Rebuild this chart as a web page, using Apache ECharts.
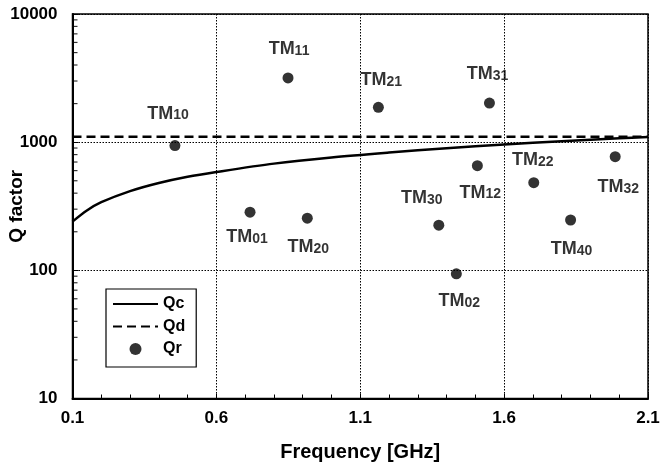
<!DOCTYPE html>
<html>
<head>
<meta charset="utf-8">
<script src="https://cdn.jsdelivr.net/npm/echarts@6/dist/echarts.min.js"></script>
<style>html,body{margin:0;padding:0;background:#fff}#c{width:661px;height:468px}</style>
</head>
<body>
<div id="c"></div>
<script>
// ---- data ----
var modeNames = ['TM10','TM11','TM01','TM20','TM21','TM31','TM12','TM22','TM32','TM30','TM40','TM02'];
var modeFreq  = [0.456, 0.849, 0.717, 0.916, 1.163, 1.549, 1.507, 1.703, 1.986, 1.373, 1.831, 1.434];
var qrValues  = [940, 3170, 284, 255, 1870, 2020, 656, 483, 771, 225, 247, 94];

var qcFreq   = [0.1, 0.15, 0.2, 0.3, 0.4, 0.5, 0.6, 0.8, 1.0, 1.2, 1.4, 1.6, 1.8, 2.0, 2.1];
var qcValues = [240, 293, 340, 415, 480, 537, 585, 680, 760, 830, 898, 960, 1018, 1072, 1098];

var qdFreq   = [0.1, 2.1];
var qdValues = [1100, 1100];

var yTickLabels = [10, 100, 1000, 10000];
var yMinorTicks = [20,30,40,50,60,70,80,90,200,300,400,500,600,700,800,900,2000,3000,4000,5000,6000,7000,8000,9000];

// label offsets (style, not data)
var labelOffsets = [[-7,-32],[1,-29],[-3,25],[1,29],[3,-27],[-2,-29],[3,27],[-1,-23],[3,30],[-17,-27],[1,29],[3,27]];

var FONT = '"Liberation Sans", Arial, sans-serif';

function zip(a, b){ return a.map(function(v,i){ return [v, b[i]]; }); }

var scatterData = modeNames.map(function(n, i){
  return {
    value: [modeFreq[i], qrValues[i]],
    name: n,
    label: { offset: labelOffsets[i] }
  };
});

var chart = echarts.init(document.getElementById('c'), null, {renderer: 'canvas'});
chart.setOption({
  animation: false,
  backgroundColor: '#fff',
  grid: { left: 72.5, right: 13, top: 14, bottom: 69.5, containLabel: false, outerBoundsMode: 'none',
          show: true, borderColor: '#000', borderWidth: 1.5 },
  legend: {
    data: [
      { name: 'Qc', itemStyle: { opacity: 0 } },
      { name: 'Qd', itemStyle: { opacity: 0 } },
      { name: 'Qr' }
    ],
    orient: 'vertical',
    left: 106, top: 289,
    padding: [7, 11, 10, 6],
    itemWidth: 45, itemHeight: 12, itemGap: 6.5,
    borderColor: '#000', borderWidth: 1.2, backgroundColor: '#fff',
    textStyle: { fontFamily: FONT, fontWeight: 'bold', fontSize: 16, color: '#000', padding: [0,0,0,0] }
  },
  xAxis: {
    type: 'value', min: 0.1, max: 2.1, interval: 0.5,
    name: 'Frequency [GHz]', nameLocation: 'middle', nameGap: 44, nameMoveOverlap: false,
    nameTextStyle: { fontFamily: FONT, fontWeight: 'bold', fontSize: 20, color: '#000' },
    axisLine: { show: true, onZero: false, lineStyle: { color: '#000', width: 2 } },
    axisTick: { show: true, inside: true, length: 5, lineStyle: { color: '#000', width: 1 } },
    minorTick: { show: true, splitNumber: 5, length: 4, lineStyle: { color: '#000', width: 1 } },
    axisLabel: { fontFamily: FONT, fontWeight: 'bold', fontSize: 17, color: '#000', margin: 11,
      formatter: function(v){ return (Math.round(v*10)/10).toFixed(1); } },
    splitLine: { show: true, lineStyle: { color: '#000', type: [1.5, 1.5], width: 1 } }
  },
  yAxis: {
    type: 'log', logBase: 10, min: 10, max: 10000,
    name: 'Q factor', nameLocation: 'middle', nameGap: 46, nameRotate: 90, nameMoveOverlap: false,
    nameTextStyle: { fontFamily: FONT, fontWeight: 'bold', fontSize: 19, color: '#000' },
    axisLine: { show: true, onZero: false, lineStyle: { color: '#000', width: 2 } },
    axisTick: { show: true, inside: true, length: 6, lineStyle: { color: '#000', width: 1 } },
    axisLabel: { fontFamily: FONT, fontWeight: 'bold', fontSize: 17, color: '#000', margin: 15,
      formatter: function(v){ return yTickLabels.indexOf(Math.round(v)) >= 0 ? String(Math.round(v)) : ''; } },
    splitLine: { show: true, lineStyle: { color: '#000', type: [1.5, 1.5], width: 1 } }
  },
  series: [
    {
      name: 'Qc', type: 'line', data: zip(qcFreq, qcValues), smooth: 0.3,
      symbol: 'none', lineStyle: { color: '#000', width: 2.5 }, itemStyle: { color: '#000' }, z: 3
    },
    {
      name: 'Qd', type: 'line', data: zip(qdFreq, qdValues),
      symbol: 'none', lineStyle: { color: '#000', width: 2.5, type: [9, 5] }, itemStyle: { color: '#000' }, z: 3
    },
    {
      name: 'Qr', type: 'scatter', data: scatterData, symbol: 'circle', symbolSize: 11,
      itemStyle: { color: '#000' }, z: 4,
      label: {
        show: true, position: 'inside',
        formatter: function(p){ return '{t|TM}{s|' + p.name.slice(2) + '}'; },
        rich: {
          t: { fontFamily: FONT, fontWeight: 'bold', fontSize: 18, color: '#000', verticalAlign: 'bottom' },
          s: { fontFamily: FONT, fontWeight: 'bold', fontSize: 14, color: '#000', verticalAlign: 'bottom' }
        }
      }
    },
    {
      name: 'minorY', type: 'scatter', silent: true, z: 5, clip: false,
      data: yMinorTicks.map(function(v){ return [qdFreq[0], v]; }),
      symbol: 'rect', symbolSize: [5, 1.2], symbolOffset: [2.5, 0],
      itemStyle: { color: '#000' }, label: { show: false }
    }
  ]
});
</script>
</body>
</html>
